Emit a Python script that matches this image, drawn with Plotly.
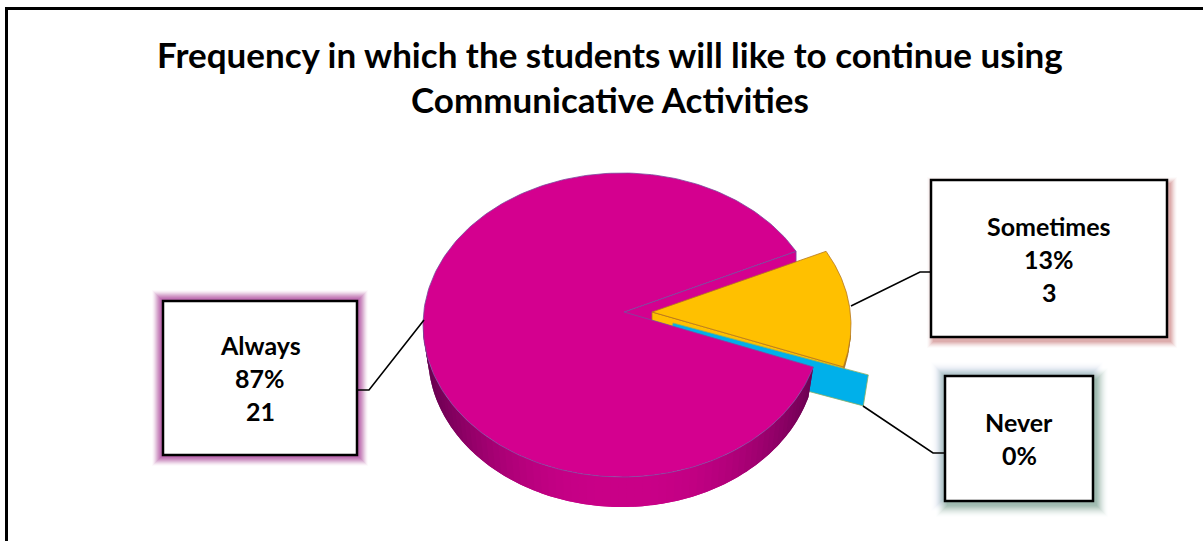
import math
import plotly.graph_objects as go

# Survey responses
categories = ["Sometimes", "Never", "Always"]
counts = [3, 0, 21]
percents = [13, 0, 87]
title_lines = ["Frequency in which the students will like to continue using",
               "Communicative Activities"]

W, H = 1203, 541

# Pie geometry in pixels (oblique view, so the disc is an ellipse)
CX, CY, RX, RY = 622, 325, 199, 152
APEX = (624, 312)
BOT_CY, BOT_RX, BOT_RY = 355, 194, 152
START_DEG = 29

PINK, PINK_EDGE = "#d4008f", "#7b4a9e"
GOLD, GOLD_EDGE = "#ffc000", "#b5761e"
CYAN, CYAN_EDGE = "#00b0ea", "#8fae62"
FONT = "Lato"

total = sum(counts)
bounds = {}
a = START_DEG
for name, c in zip(categories, counts):
    sweep = 360 * c / total
    bounds[name] = (a, a - sweep)
    a -= sweep


def arc(t0, t1, n=120, cx=CX, cy=CY, rx=RX, ry=RY, dx=0, dy=0):
    pts = [t0 + (t1 - t0) * i / n for i in range(n + 1)]
    return ([cx + dx + rx * math.cos(math.radians(t)) for t in pts],
            [cy + dy - ry * math.sin(math.radians(t)) for t in pts])


fig = go.Figure()


def poly(xs, ys, fill, line=None, width=0.8):
    fig.add_trace(go.Scatter(
        x=xs, y=ys, mode="lines", fill="toself", fillcolor=fill,
        line=dict(color=line or fill, width=width), hoverinfo="skip", showlegend=False))


# --- zero-value slice: only its radial face shows, pulled out of the pie
t_never = bounds["Never"][0]
nx, ny = 55, 8
ox, oy = arc(t_never, t_never, 1)
ox, oy = ox[0], oy[0]

# --- back radial wall of the large slice, seen through the gap
t_a0, t_a1 = bounds["Always"]
ex, ey = arc(t_a1, t_a1, 1)
poly([APEX[0], ex[0], ex[0], APEX[0], APEX[0]],
     [APEX[1], ey[0], ey[0] + 30, APEX[1] + 30, APEX[1]], PINK, PINK_EDGE)

# --- pulled-out slice with its thin side
sx, sy = 28, 0
t0, t1 = bounds["Sometimes"]
ax_, ay_ = APEX[0] + sx, APEX[1]
rim_x, rim_y = arc(t0, t1, dx=sx + 2, dy=sy)
low_x, low_y = arc(t1, t1 + 12, 20, dx=sx + 2, dy=sy)
poly(low_x + [x - 1 for x in low_x[::-1]], low_y + [y + 7 for y in low_y[::-1]], "#a8741a", "#a8741a")
poly([ax_, rim_x[-1], rim_x[-1], ax_, ax_],
     [ay_, rim_y[-1], rim_y[-1] + 8, ay_ + 9, ay_], GOLD, GOLD_EDGE)
poly([ax_] + rim_x + [ax_], [ay_] + rim_y + [ay_], GOLD, GOLD_EDGE)

# Radial face of the zero slice, tucked under the large slice
poly([APEX[0] + nx - 6, ox + nx, ox + nx - 5, APEX[0] + nx - 11, APEX[0] + nx - 6],
     [APEX[1] + ny + 3, oy + ny, oy + ny + 31, APEX[1] + ny + 34, APEX[1] + ny + 3],
     CYAN, CYAN_EDGE)

# --- shaded outer wall of the large slice, darker toward both ends
# Each band overlaps the next one so no seams show between them.
wall_start, wall_end = 180, 360 + t_a0
steps = 70
step = (wall_end - wall_start) / steps
for i in range(steps):
    a0 = wall_start + step * i
    a1 = min(a0 + step * 2, wall_end)
    mid = a0 + step / 2
    k = abs(math.cos(math.radians(mid))) ** 2.4
    color = f"rgb({int(202 - 102 * k)},0,{int(136 - 58 * k)})"
    tx, ty = arc(a0, a1, 4)
    bx, by = arc(a1, a0, 4, cy=BOT_CY, rx=BOT_RX, ry=BOT_RY)
    fig.add_trace(go.Scatter(x=tx + bx, y=ty + by, mode="none", fill="toself", fillcolor=color,
                             hoverinfo="skip", showlegend=False))

# --- top of the large slice
top_x, top_y = arc(t_a0, t_a1, 240)
poly([APEX[0]] + top_x + [APEX[0]], [APEX[1]] + top_y + [APEX[1]], PINK, PINK_EDGE)

# Callout leader lines, from each box to its slice
leaders = [([357, 369, 424], [390, 390, 320]),
           ([931, 920, 851], [272, 272, 306]),
           ([945, 933, 863], [453, 453, 406])]
for lx, ly in leaders:
    fig.add_trace(go.Scatter(x=lx, y=ly, mode="lines", line=dict(color="black", width=1.6),
                             hoverinfo="skip", showlegend=False))

shapes = []


def rect(x0, y0, x1, y1, **kw):
    shapes.append(dict(type="rect", xref="x", yref="y", x0=x0, y0=y0, x1=x1, y1=y1, **kw))


def glow(box, color, spread, off=(0, 0), alpha=0.14):
    x0, y0, x1, y1 = box
    for s in range(spread, 0, -1):
        rect(x0 - s + off[0], y0 - s + off[1], x1 + s + off[0], y1 + s + off[1],
             fillcolor=color, opacity=alpha * (1 - (s - 1) / spread), line_width=0, layer="below")


boxes = {"Always": (163, 301, 357, 455),
         "Sometimes": (931, 180, 1167, 337),
         "Never": (945, 376, 1093, 501)}
glow(boxes["Always"], "#b050a0", 11, alpha=0.34)
glow(boxes["Sometimes"], "#c06868", 7, off=(3, 4), alpha=0.18)
glow(boxes["Never"], "#9cb8d0", 12, off=(-2, -2), alpha=0.10)
glow(boxes["Never"], "#709a80", 12, off=(3, 4), alpha=0.12)

annotations = []


def text(x, y, s, size):
    annotations.append(dict(x=x, y=y, xref="x", yref="y", text=f"<b>{s}</b>", showarrow=False,
                            xanchor="center", yanchor="middle",
                            font=dict(family=FONT, size=size, color="black")))


for name, count, pct in zip(categories, counts, percents):
    x0, y0, x1, y1 = boxes[name]
    rect(x0, y0, x1, y1, fillcolor="white", line=dict(color="black", width=2.5), layer="above")
    xc = (x0 + x1) / 2
    yc = (y0 + y1) / 2
    rows = [name, f"{pct}%"] + ([str(count)] if count else [])
    for i, row in enumerate(rows):
        text(xc, yc + (i - (len(rows) - 1) / 2) * 33, row, 25)

text(610, 53.5, title_lines[0], 35)
text(610, 98.5, title_lines[1], 35)

# Outer chart frame, open on the right and running off the page
fig.add_trace(go.Scatter(x=[6.5, 6.5, W + 5], y=[H + 5, 8.5, 8.5], mode="lines",
                         line=dict(color="black", width=3), hoverinfo="skip", showlegend=False))

fig.update_layout(
    width=W, height=H, margin=dict(l=0, r=0, t=0, b=0),
    paper_bgcolor="white", plot_bgcolor="white", showlegend=False,
    xaxis=dict(range=[0, W], visible=False, fixedrange=True),
    yaxis=dict(range=[H, 0], visible=False, fixedrange=True),
    shapes=shapes, annotations=annotations,
)
fig.write_html("out.html")
